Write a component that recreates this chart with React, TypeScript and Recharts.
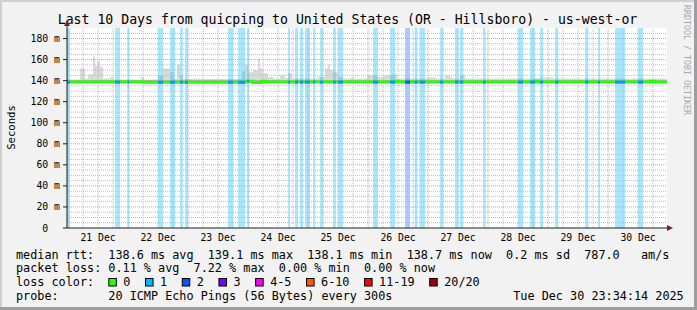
import React from "react";
import {
  ComposedChart,
  Line,
  Area,
  XAxis,
  YAxis,
  CartesianGrid,
  ReferenceArea,
  ReferenceLine,
} from "recharts";

const FONT = '"DejaVu Sans Mono", "Liberation Mono", monospace';

// time axis: hours relative to 21 Dec 00:00
const T_START = -0.43; // Sat Dec 20 23:34:14
const T_END = 239.57; // Tue Dec 30 23:34:14

const DAY_LABELS = ["21 Dec", "22 Dec", "23 Dec", "24 Dec", "25 Dec", "26 Dec", "27 Dec", "28 Dec", "29 Dec", "30 Dec"];
const DAY_NOON_HOURS = [12, 36, 60, 84, 108, 132, 156, 180, 204, 228];
const MIDNIGHT_HOURS = [0, 24, 48, 72, 96, 120, 144, 168, 192, 216];
const Y_TICKS = [0, 20, 40, 60, 80, 100, 120, 140, 160, 180];
const Y_MAX = 190;

// median rtt (ms) change points [hour, ms]
const MEDIAN: [number, number][] = [
  [-0.43, 138.6], [30, 138.5], [70.8, 139.5], [74, 138.3], [77.6, 139.3], [79, 138.6],
  [131, 139.5], [132.2, 138.6], [186.8, 139.6], [188, 138.6], [233.2, 139.5], [234.4, 138.6],
  [239.57, 138.6],
];

// smoke (max rtt) change points [hour, ms]
const SMOKE: [number, number][] = [
  [-0.43, 141], [4.8, 151.5], [6.8, 142], [8, 146], [10, 163], [10.8, 154], [11.6, 158], [12.8, 153],
  [14, 142], [16.8, 143.5], [18, 141], [29.2, 143.5], [30.4, 141], [36, 145], [38, 151.5], [40.8, 148],
  [42.4, 141.5], [43.6, 155.5], [44.8, 145], [46, 141.5], [50, 142], [52.8, 141.5], [69.6, 149],
  [70.8, 155], [72, 148], [74, 150], [76, 161], [76.8, 151.5], [78, 147], [80, 143.5], [82, 142],
  [84.8, 145], [86.8, 142.5], [88, 147], [89.6, 142], [100, 143.5], [102.8, 151.5], [104, 155.5],
  [104.8, 150], [106, 148], [108, 143.5], [110, 142], [112.8, 143], [114, 142], [119.6, 145],
  [123.6, 143.5], [126, 145], [130, 146], [131.6, 142], [143.6, 143], [146.8, 142], [150.8, 145],
  [152.8, 143], [154, 142], [156.8, 145], [158.8, 142], [188.8, 143], [194, 142], [239.57, 142],
];
const SMOKE_LOW = 137.8;
const SMOKE_CORE_TOP = 140.6;

// packet loss periods [startHour, endHour, lossLevel]
const LOSS_BANDS: [number, number, number][] = [
  [-0.43, 0.8, 1], [18.8, 20.8, 1], [23.8, 24.5, 1], [36.0, 38.0, 1], [40.8, 42.8, 1],
  [44.8, 45.9, 1], [46.8, 47.9, 1], [64.0, 66.0, 1], [68.0, 70.8, 1], [71.7, 72.4, 1],
  [88.0, 88.8, 1], [90.8, 92.0, 1], [92.8, 94.0, 1], [94.8, 96.8, 1], [98.0, 98.8, 1],
  [100.8, 102.0, 1], [106.0, 107.1, 1], [108.0, 110.0, 1], [122.0, 124.0, 1], [128.8, 130.8, 1],
  [134.8, 136.8, 2], [138.6, 139.8, 1], [140.6, 142.8, 1], [148.8, 150.0, 1], [154.8, 156.2, 1],
  [156.8, 158.1, 1], [166.0, 167.0, 1], [180.0, 182.0, 1], [184.8, 186.8, 1], [188.8, 190.0, 1],
  [194.8, 196.1, 1], [206.8, 208.1, 1], [212.0, 212.8, 1], [218.8, 222.8, 1], [228.0, 230.0, 1],
];

const LOSS_LABELS = ["0", "1", "2", "3", "4-5", "6-10", "11-19", "20/20"];
const LOSS_COLORS = ["#26ff00", "#00b8ff", "#0059ff", "#7e00ff", "#ff00ff", "#ff5500", "#ff0000", "#a10000"];
const BAND_COLORS: Record<number, string> = { 1: "#00b0f4", 2: "#0059ff" };
const SEGMENT_COLORS: Record<number, string> = { 1: "#1e8cff", 2: "#0059ff" };

const TITLE = "Last 10 Days from quicping to United States (OR - Hillsboro) - us-west-or";
const ROW_RTT = "median rtt:  138.6 ms avg  139.1 ms max  138.1 ms min  138.7 ms now  0.2 ms sd  787.0   am/s";
const ROW_LOSS = "packet loss: 0.11 % avg  7.22 % max  0.00 % min  0.00 % now";
const ROW_PROBE = "probe:       20 ICMP Echo Pings (56 Bytes) every 300s";
const STAMP = "Tue Dec 30 23:34:14 2025";

// grid definitions
const H_MAJOR = Y_TICKS.filter((v) => v > 0);
const H_MINOR: number[] = [];
for (let v = 5; v < Y_MAX; v += 5) if (v % 20 !== 0) H_MINOR.push(v);
const V_MINOR: number[] = [];
for (let h = 6; h < T_END; h += 6) if (h % 24 !== 0) V_MINOR.push(h);

const medianRows = MEDIAN.map(([t, v]) => ({ t, v }));
const smokeRows = SMOKE.map(([t, hi]) => ({ t, hi }));

function medianAt(t: number) {
  let v = MEDIAN[0][1];
  for (const [mt, mv] of MEDIAN) if (mt <= t) v = mv;
  return v;
}

const AXIS_FS = 9.8;
const AXIS_CW = AXIS_FS * 0.602;
const LEG_FS = 11.8;
const CW = LEG_FS * 0.602;

const MINOR_GRID = "#bdbdbd";
const MAJOR_GRID = "#e99494";

const renderYTick = (p: any) => {
  const v = p.payload.value;
  const label = v === 0 ? "0" : `${v} m`;
  const shift = v === 0 ? 2 * AXIS_CW : 0;
  return (
    <text x={p.x - shift} y={p.y} dy="0.36em" textAnchor="end" fontFamily={FONT} fontSize={AXIS_FS} fill="#000">
      {label}
    </text>
  );
};

const renderXTick = (p: any) => {
  const idx = DAY_NOON_HOURS.indexOf(p.payload.value);
  return (
    <text x={p.x} y={p.y} dy={12.5} textAnchor="middle" fontFamily={FONT} fontSize={AXIS_FS} fill="#000">
      {DAY_LABELS[idx]}
    </text>
  );
};

function LossLegend() {
  const items: React.ReactNode[] = [];
  let cx = 16 + 13 * CW;
  LOSS_LABELS.forEach((lab, i) => {
    items.push(
      <rect key={"b" + i} x={cx + 0.5} y={278.5} width={7.5} height={7.5} fill={LOSS_COLORS[i]} stroke="#000" strokeWidth={1} />
    );
    items.push(
      <text key={"t" + i} x={cx + 15} y={286} fontFamily={FONT} fontSize={LEG_FS} fill="#000">
        {lab}
      </text>
    );
    cx = cx + 15 + lab.length * CW + 14.6;
  });
  return <g>{items}</g>;
}

export default function App() {
  return (
    <div style={{ position: "absolute", left: 0, top: 0, width: 697, height: 310, background: "#f2f2f2", overflow: "hidden" }}>
      <svg width={697} height={310} style={{ position: "absolute", left: 0, top: 0 }}>
        <rect x={0} y={0} width={697} height={2} fill="#cfcfcf" />
        <rect x={0} y={0} width={2} height={310} fill="#cfcfcf" />
        <rect x={0} y={307} width={697} height={3} fill="#9e9e9e" />
        <rect x={694} y={0} width={3} height={310} fill="#9e9e9e" />
      </svg>
      <div style={{ position: "absolute", left: 0, top: 0 }}>
        <ComposedChart width={697} height={310} margin={{ top: 28, right: 30, bottom: 62, left: 7 }}>
          <CartesianGrid fill="#ffffff" horizontal={false} vertical={false} />
          <XAxis
            dataKey="t"
            type="number"
            domain={[T_START, T_END]}
            ticks={DAY_NOON_HOURS}
            interval={0}
            allowDataOverflow
            height={20}
            tickSize={0}
            tickMargin={0}
            tickLine={false}
            axisLine={{ stroke: "#1f1f1f" }}
            tick={renderXTick}
          />
          <YAxis
            type="number"
            domain={[0, Y_MAX]}
            ticks={Y_TICKS}
            interval={0}
            allowDataOverflow
            width={60}
            tickSize={4}
            tickMargin={3}
            tickLine={{ stroke: "#1f1f1f" }}
            axisLine={{ stroke: "#1f1f1f" }}
            tick={renderYTick}
          />
          <Area
            data={smokeRows}
            dataKey={(d: any) => [SMOKE_LOW, d.hi]}
            type="stepAfter"
            fill="#d9d9d9"
            fillOpacity={1}
            stroke="none"
            isAnimationActive={false}
          />
          <Area
            data={smokeRows}
            dataKey={() => [SMOKE_LOW, SMOKE_CORE_TOP]}
            type="stepAfter"
            fill="#b8b8b8"
            fillOpacity={1}
            stroke="none"
            isAnimationActive={false}
          />
          {LOSS_BANDS.map(([a, b, lvl], i) => (
            <ReferenceArea
              key={"band" + i}
              x1={a}
              x2={b}
              y1={0}
              y2={Y_MAX}
              fill={BAND_COLORS[lvl]}
              fillOpacity={0.33}
              stroke="none"
              ifOverflow="hidden"
            />
          ))}
          {H_MINOR.map((v) => (
            <ReferenceLine key={"hm" + v} y={v} stroke={MINOR_GRID} strokeDasharray="1 1" strokeWidth={1} />
          ))}
          {V_MINOR.map((h) => (
            <ReferenceLine key={"vm" + h} x={h} stroke={MINOR_GRID} strokeDasharray="1 1" strokeWidth={1} />
          ))}
          {H_MAJOR.map((v) => (
            <ReferenceLine key={"hM" + v} y={v} stroke={MAJOR_GRID} strokeDasharray="1 1" strokeWidth={1} />
          ))}
          {MIDNIGHT_HOURS.map((h) => (
            <ReferenceLine key={"vM" + h} x={h} stroke={MAJOR_GRID} strokeDasharray="1 1" strokeWidth={1} />
          ))}
          <Line
            data={medianRows}
            dataKey="v"
            type="stepAfter"
            stroke="#26ff00"
            strokeWidth={3}
            dot={false}
            isAnimationActive={false}
          />
          {LOSS_BANDS.map(([a, b, lvl], i) => (
            <Line
              key={"seg" + i}
              data={[{ t: a, v: medianAt(a) }, { t: b, v: medianAt(a) }]}
              dataKey="v"
              type="linear"
              stroke={SEGMENT_COLORS[lvl]}
              strokeWidth={3}
              dot={false}
              isAnimationActive={false}
            />
          ))}
        </ComposedChart>
      </div>
      <svg width={697} height={310} style={{ position: "absolute", left: 0, top: 0, pointerEvents: "none" }}>
        <text x={347.5} y={24} textAnchor="middle" fontFamily={FONT} fontSize={13.2} fill="#000">
          {TITLE}
        </text>
        <text
          x={0}
          y={0}
          transform="translate(10.5,127.5) rotate(-90)"
          textAnchor="middle"
          dominantBaseline="central"
          fontFamily={FONT}
          fontSize={10.6}
          fill="#000"
        >
          Seconds
        </text>
        <text
          x={0}
          y={0}
          transform="translate(687,60) rotate(90)"
          textAnchor="middle"
          dominantBaseline="central"
          fontFamily={FONT}
          fontSize={8.3}
          fill="#a8a8a8"
        >
          RRDTOOL / TOBI OETIKER
        </text>
        <line x1={67} y1={28} x2={67} y2={25} stroke="#1f1f1f" strokeWidth={1} />
        <polygon points="67,20 64,26 70,26" fill="#801f1f" />
        <polygon points="673,228 667,225 667,231" fill="#801f1f" />
        <g fontFamily={FONT} fontSize={LEG_FS} fill="#000" style={{ whiteSpace: "pre" }}>
          <text x={16} y={258.5} xmlSpace="preserve">{ROW_RTT}</text>
          <text x={16} y={272.2} xmlSpace="preserve">{ROW_LOSS}</text>
          <text x={16} y={286} xmlSpace="preserve">loss color:</text>
          <text x={16} y={299.6} xmlSpace="preserve">{ROW_PROBE}</text>
          <text x={16 + 70 * CW} y={299.6} xmlSpace="preserve">{STAMP}</text>
        </g>
        <LossLegend />
      </svg>
    </div>
  );
}
